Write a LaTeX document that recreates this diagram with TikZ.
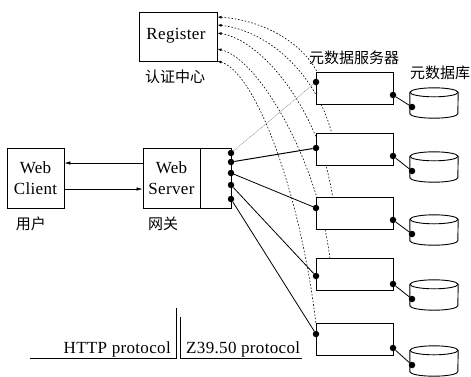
\documentclass[tikz,border=0pt]{standalone}
\usepackage{fontspec}
\setmainfont{Liberation Serif}[LetterSpace=2]
\newfontfamily\cjk{Noto Sans CJK SC}
\usetikzlibrary{arrows.meta}
\begin{document}
\begin{tikzpicture}[x=1pt,y=-1pt,
  box/.style={draw, line width=0.9pt, fill=white, inner sep=0pt},
  lat/.style={font=\fontsize{17}{21}\selectfont, inner sep=0pt},
  zh/.style={font=\cjk\fontsize{15}{18}\selectfont, inner sep=0pt},
  dotn/.style={circle, fill=black, inner sep=0pt, minimum size=6.5pt},
  link/.style={line width=0.8pt},
  regline/.style={line width=0.6pt, dash pattern=on 1.6pt off 1.8pt, {Latex[length=4pt,width=3pt]}-},
  arr/.style={line width=0.6pt, -{Latex[length=6pt,width=3.5pt]}},
  proto/.style={line width=0.6pt}
]
\useasboundingbox (0,0) rectangle (471,376);

% register
\node[box, minimum width=78pt, minimum height=49pt] (reg) at (178,36.5) {};
\node[lat] (regt) at (176,36) {Register};
\node[zh] (regl) at (175,77) {认证中心};

% register side ends
\coordinate (r1) at (217.5,17);
\coordinate (r2) at (217.5,25);
\coordinate (r3) at (217.5,33);
\coordinate (r4) at (217.5,49);
\coordinate (r5) at (217.5,61);
% curve ends at metadata servers
\coordinate (e1) at (318,74);
\coordinate (e2) at (332,134);
\coordinate (e3) at (333,199);
\coordinate (e4) at (330,259);
\coordinate (e5) at (316,324);

\draw[regline] (r1) .. controls (265,20) and (305,45) .. (e1);
\draw[regline] (r2) .. controls (265,30) and (315,70) .. (e2);
\draw[regline] (r3) .. controls (262,40) and (320,110) .. (e3);
\draw[regline] (r4) .. controls (258,58) and (318,160) .. (e4);
\draw[regline] (r5) .. controls (255,72) and (300,190) .. (e5);

% client and server
\node[box, minimum width=57pt, minimum height=60pt, lat, align=center] (client) at (35.5,178) {Web\\Client};
\node[zh] (clientl) at (31,224) {用户};
\node[box, minimum width=57pt, minimum height=60pt, lat, align=center] (srv) at (171.5,178) {Web\\Server};
\node[box, minimum width=31pt, minimum height=60pt] (port) at (215.5,178) {};
\node[zh] (srvl) at (163,224) {网关};

\draw[arr] ([yshift=15pt]srv.west) -- ([yshift=15pt]client.east);
\draw[arr] ([yshift=-11pt]client.east) -- ([yshift=-11pt]srv.west);

% metadata servers
\node[zh] (msl) at (354,57.5) {元数据服务器};
\node[zh, anchor=west] (dbl) at (410,72.5) {元数据库};
\foreach \i/\y in {1/88,2/149,3/213.5,4/274,5/339}{
  \node[box, minimum width=77pt, minimum height=32pt] (ms\i) at (354.5,\y) {};
}

% databases
\foreach \i/\t in {1/88,2/152,3/215,4/280,5/346}{
  \node[inner sep=0pt, minimum width=48pt, minimum height=30pt] (db\i) at (434,\t+15) {};
  \draw[line width=0.9pt] ([yshift=-4.5pt]db\i.north) ellipse [x radius=24pt, y radius=4.5pt];
  \draw[line width=0.9pt] ([yshift=-4.5pt]db\i.north west) -- ([yshift=4.5pt]db\i.south west)
     arc[start angle=180, end angle=360, x radius=24pt, y radius=4.5pt] -- ([yshift=-4.5pt]db\i.north east);
  \node[dotn] (cd\i) at (412,\t+19) {};
}

% dots
\foreach \i/\y in {1/153,2/162,3/173,4/185,5/199}{
  \node[dotn] (s\i) at (231,\y) {};
}
\foreach \i/\y in {1/82,2/148,3/208,4/276,5/334}{
  \node[dotn] (ml\i) at (316,\y) {};
}
\foreach \i/\y in {1/95,2/156,3/220,4/284,5/348}{
  \node[dotn] (mr\i) at (393,\y) {};
}

% links
\draw[gray, line width=0.5pt, dash pattern=on 1pt off 0.8pt] (s1) -- (ml1);
\draw[link, line width=1pt] (s2) -- (ml2);
\draw[link] (s3) -- (ml3);
\draw[link] (s4) -- (ml4);
\draw[link] (s5) -- (ml5);
\foreach \i in {1,...,5}{
  \draw[link] (mr\i) -- (cd\i);
}

% protocol labels
\node[lat, anchor=base east] (http) at (171,353) {HTTP protocol};
\node[lat, anchor=base west] (z3950) at (186,353) {Z39.50 protocol};
\coordinate (h0) at (30,358);
\coordinate (h1) at (176,358);
\coordinate (h2) at (176,308);
\coordinate (z0) at (180,317);
\coordinate (z1) at (180,358);
\coordinate (z2) at (302,358);
\draw[proto] (h0) -- (h1) -- (h2);
\draw[proto] (z0) -- (z1) -- (z2);
\end{tikzpicture}
\end{document}
